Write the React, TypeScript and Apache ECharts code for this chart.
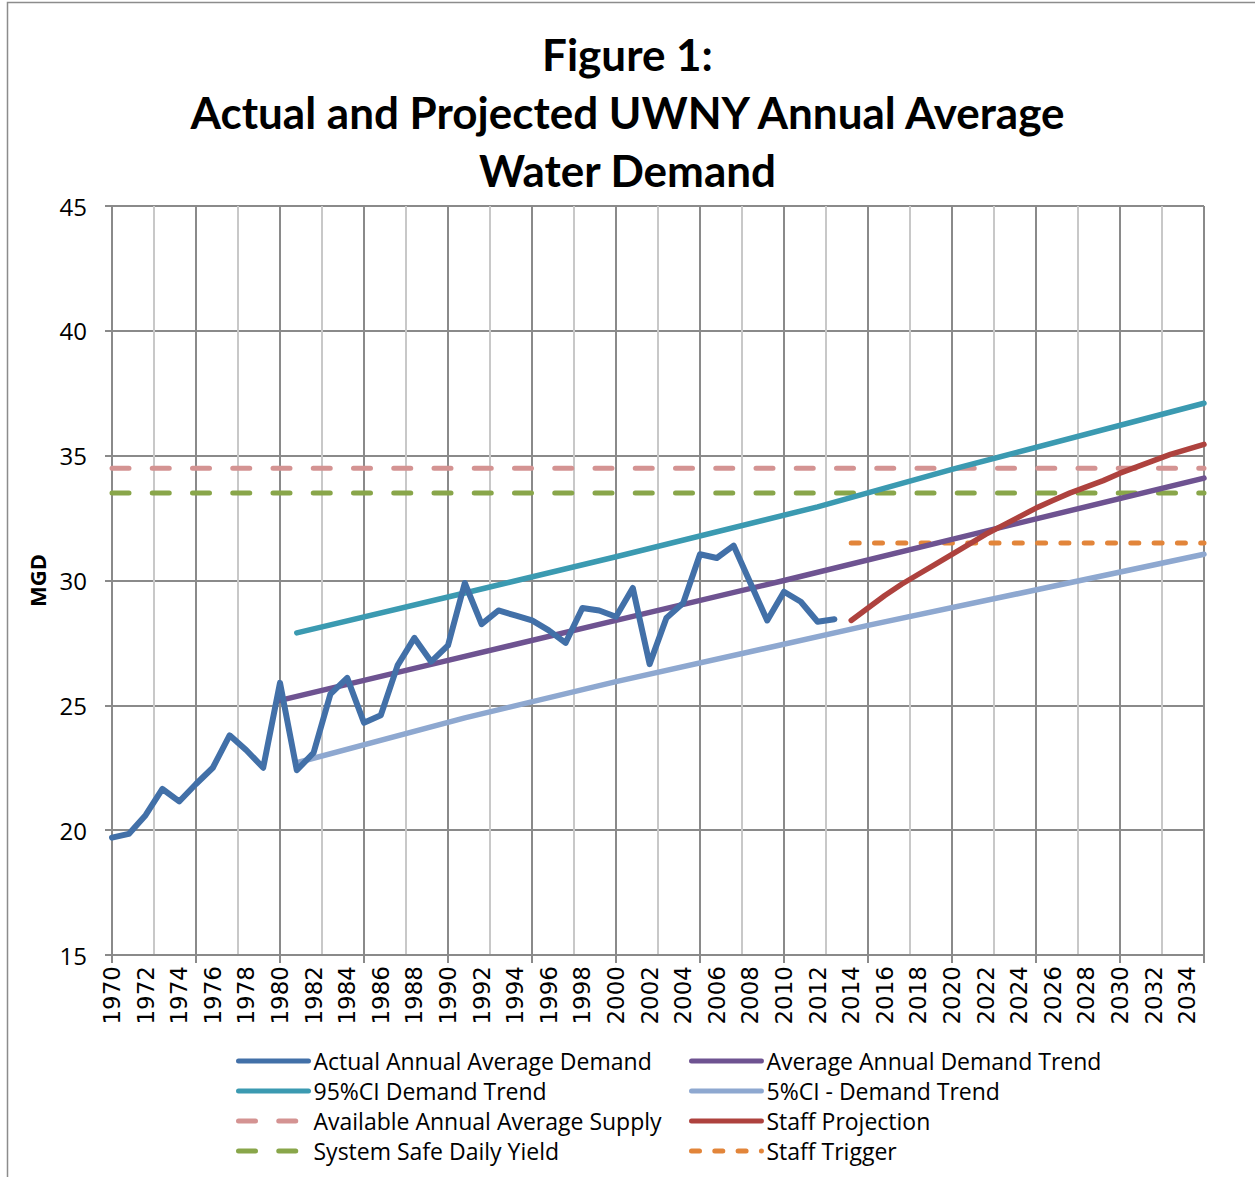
import React, { useEffect, useRef } from "react";
import * as echarts from "echarts";

// Category tick labels along the x axis (every year 1970-2035, shown every second year)
const yearLabels: string[] = Array.from({ length: 66 }, (_, i) => String(1970 + i));

// Actual Annual Average Demand (MGD)
const actualYears = [
  1970, 1971, 1972, 1973, 1974, 1975, 1976, 1977, 1978, 1979,
  1980, 1981, 1982, 1983, 1984, 1985, 1986, 1987, 1988, 1989,
  1990, 1991, 1992, 1993, 1994, 1995, 1996, 1997, 1998, 1999,
  2000, 2001, 2002, 2003, 2004, 2005, 2006, 2007, 2008, 2009,
  2010, 2011, 2012, 2013,
];
const actualValues = [
  19.7, 19.85, 20.6, 21.65, 21.15, 21.85, 22.5, 23.8, 23.2, 22.5,
  25.9, 22.4, 23.1, 25.45, 26.1, 24.3, 24.6, 26.6, 27.7, 26.75,
  27.4, 29.9, 28.25, 28.8, 28.6, 28.4, 28.0, 27.5, 28.9, 28.8,
  28.55, 29.7, 26.65, 28.5, 29.1, 31.05, 30.9, 31.4, 29.9, 28.4,
  29.55, 29.15, 28.35, 28.45,
];

// Average Annual Demand Trend
const trendYears = [1980, 1990, 2000, 2010, 2020, 2035];
const trendValues = [25.2, 26.8, 28.4, 30.0, 31.65, 34.1];

// 95%CI Demand Trend
const ci95Years = [1981, 1991, 2000, 2012, 2020, 2035];
const ci95Values = [27.9, 29.5, 30.95, 32.95, 34.45, 37.1];

// 5%CI - Demand Trend
const ci5Years = [1981, 1991, 2000, 2015, 2035];
const ci5Values = [22.7, 24.5, 25.95, 28.2, 31.05];

// Available Annual Average Supply
const supplyYears = [1970, 2035];
const supplyValues = [34.5, 34.5];

// System Safe Daily Yield
const yieldYears = [1970, 2035];
const yieldValues = [33.5, 33.5];

// Staff Projection
const projYears = [
  2014, 2015, 2016, 2017, 2018, 2019, 2020, 2021, 2022, 2023, 2024,
  2025, 2026, 2027, 2028, 2029, 2030, 2031, 2032, 2033, 2034, 2035,
];
const projValues = [
  28.4, 28.9, 29.4, 29.85, 30.25, 30.65, 31.05, 31.45, 31.85, 32.2, 32.55,
  32.9, 33.2, 33.5, 33.75, 34.0, 34.3, 34.55, 34.8, 35.05, 35.25, 35.45,
];

// Staff Trigger
const triggerYears = [2014, 2035];
const triggerValues = [31.5, 31.5];

// Y axis range
const yMin = 15;
const yMax = 45;
const yStep = 5;

const zip = (xs: number[], ys: number[]) => xs.map((x, i) => [x, ys[i]]);

const C = {
  actual: "#4270A8",
  trend: "#6E5391",
  ci95: "#3B9AB1",
  ci5: "#8EA8D0",
  supply: "#D49392",
  yield: "#89A64A",
  proj: "#AE423E",
  trigger: "#E2853A",
};

export default function App() {
  const ref = useRef<HTMLDivElement>(null);

  useEffect(() => {
    if (!ref.current) return;
    const chart = echarts.init(ref.current, undefined, { renderer: "svg" });

    const solid = (name: string, color: string, xs: number[], ys: number[], width = 5.5) => ({
      name,
      type: "line",
      xAxisIndex: 0,
      data: zip(xs, ys),
      showSymbol: false,
      symbol: "none",
      lineStyle: { color, width, cap: "round", join: "round" },
      itemStyle: { color },
    });
    const dashed = (name: string, color: string, xs: number[], ys: number[], dash: number[]) => ({
      name,
      type: "line",
      xAxisIndex: 0,
      data: zip(xs, ys),
      showSymbol: false,
      symbol: "none",
      lineStyle: { color, width: 5, type: dash, cap: "round" },
      itemStyle: { color },
    });

    const legendText = { fontFamily: "Open Sans", fontSize: 23, color: "#000", lineHeight: 24 };
    const legendBase = {
      orient: "vertical",
      top: 1044,
      itemWidth: 70,
      itemHeight: 14,
      itemGap: 6,
      textStyle: legendText,
      itemStyle: { opacity: 0, borderWidth: 0 },
      lineStyle: { width: 5, cap: "round" },
    };

    chart.setOption({
      animation: false,
      backgroundColor: "#fff",
      title: {
        text: "Figure 1:\nActual and Projected UWNY Annual Average\nWater Demand",
        left: "center",
        top: 20,
        textStyle: {
          fontFamily: "Lato",
          fontWeight: "bold",
          fontSize: 44,
          lineHeight: 58,
          color: "#000",
        },
      },
      graphic: [
        {
          type: "rect",
          silent: true,
          z: -1,
          shape: { x: 7.5, y: 2.5, width: 1400, height: 1400 },
          style: { fill: "none", stroke: "#8c8c8c", lineWidth: 1.5 },
        },
      ],
      grid: { left: 112, top: 206, width: 1092, height: 749, containLabel: false },
      xAxis: [
        {
          type: "value",
          min: 1970,
          max: 2035,
          interval: 5,
          position: "bottom",
          axisLine: { show: true, lineStyle: { color: "#8a8a8a", width: 2 } },
          axisTick: { show: true, length: 8, lineStyle: { color: "#8a8a8a", width: 2 } },
          axisLabel: { show: false },
          splitLine: { show: true, lineStyle: { color: "#8a8a8a", width: 2 } },
          minorTick: { show: false, splitNumber: 2 },
          minorSplitLine: { show: true, lineStyle: { color: "#c8c8c8", width: 2 } },
        },
        {
          type: "category",
          data: yearLabels,
          boundaryGap: false,
          position: "bottom",
          axisLine: { show: false },
          axisTick: { show: false },
          splitLine: { show: false },
          axisLabel: {
            interval: 1,
            rotate: 90,
            margin: 11,
            fontFamily: "DejaVu Sans",
            fontSize: 23,
            color: "#000",
          },
        },
      ],
      yAxis: {
        type: "value",
        min: yMin,
        max: yMax,
        interval: yStep,
        name: "MGD",
        nameLocation: "middle",
        nameGap: 64,
        nameTextStyle: { fontFamily: "Open Sans", fontWeight: "bold", fontSize: 22, color: "#000" },
        axisLine: { show: true, lineStyle: { color: "#8a8a8a", width: 2 } },
        axisTick: { show: true, length: 7, lineStyle: { color: "#8a8a8a", width: 2 } },
        axisLabel: { margin: 25, fontFamily: "Open Sans", fontSize: 24, color: "#000" },
        splitLine: { show: true, lineStyle: { color: "#8a8a8a", width: 2 } },
      },
      legend: [
        {
          ...legendBase,
          left: 231,
          data: [
            "Actual Annual Average Demand",
            "95%CI Demand Trend",
            "Available Annual Average Supply",
            "System Safe Daily Yield",
          ],
        },
        {
          ...legendBase,
          left: 684,
          data: [
            "Average Annual Demand Trend",
            "5%CI - Demand Trend",
            "Staff Projection",
            "Staff Trigger",
          ],
        },
      ],
      series: [
        dashed("Available Annual Average Supply", C.supply, supplyYears, supplyValues, [17, 23.25]),
        dashed("System Safe Daily Yield", C.yield, yieldYears, yieldValues, [17, 23.25]),
        dashed("Staff Trigger", C.trigger, triggerYears, triggerValues, [8, 15.3]),
        solid("5%CI - Demand Trend", C.ci5, ci5Years, ci5Values),
        solid("95%CI Demand Trend", C.ci95, ci95Years, ci95Values),
        solid("Average Annual Demand Trend", C.trend, trendYears, trendValues),
        solid("Staff Projection", C.proj, projYears, projValues),
        solid("Actual Annual Average Demand", C.actual, actualYears, actualValues, 6),
      ],
    });

    return () => chart.dispose();
  }, []);

  return (
    <div
      ref={ref}
      style={{ position: "absolute", left: 0, top: 0, width: 1255, height: 1177 }}
    />
  );
}
